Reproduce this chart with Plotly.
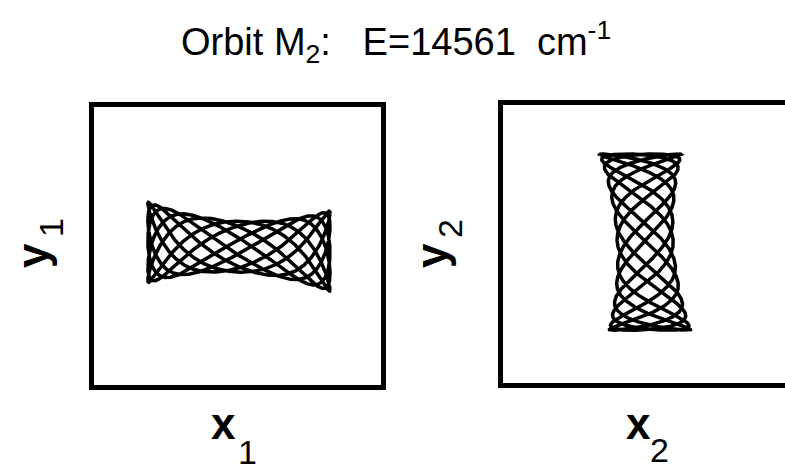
import numpy as np
import plotly.graph_objects as go

# Orbit M2 projected onto the (x1, y1) and (x2, y2) planes.
# Each projection is a quasi-periodic torus orbit: a slow sweep along the
# long axis and a fast transverse oscillation whose amplitude widens
# towards the turning points.
panels = ["(x1, y1)", "(x2, y2)"]
slow_freq = [5, 4]            # oscillations along the long axis
fast_freq = [11, 13]          # transverse oscillations
long_center = [0.010, 0.0135]
long_amp = [0.635, 0.634]
waist_halfwidth = [0.1835, 0.1955]
end_flare = [0.106, 0.088]
axis_offset = [-0.005, -0.009]
axis_tilt = [-0.031, -0.033]
phase = [0.35, 0.35]

W, H = 785, 472


def orbit(i, n=8000):
    t = np.linspace(0, 2 * np.pi, n)
    s = np.cos(slow_freq[i] * t)
    along = long_center[i] + long_amp[i] * s
    across = (axis_offset[i] + axis_tilt[i] * s
              + (waist_halfwidth[i] + end_flare[i] * s ** 2)
              * np.cos(fast_freq[i] * t + phase[i]))
    return along, across


fig = go.Figure()

a1, c1 = orbit(0)
fig.add_trace(go.Scatter(x=a1, y=c1, mode="lines",
                         line=dict(color="black", width=3.5),
                         xaxis="x", yaxis="y", hoverinfo="skip"))
a2, c2 = orbit(1)
fig.add_trace(go.Scatter(x=c2, y=a2, mode="lines",
                         line=dict(color="black", width=3.5),
                         xaxis="x2", yaxis="y2", hoverinfo="skip"))

ax_common = dict(showgrid=False, zeroline=False, showticklabels=False,
                 ticks="", showline=True, linecolor="black", linewidth=4.5,
                 fixedrange=True)

fig.update_layout(
    width=W, height=H,
    margin=dict(l=0, r=0, t=0, b=0),
    paper_bgcolor="white", plot_bgcolor="white",
    showlegend=False,
    font=dict(family="Liberation Sans, Arial, sans-serif", color="black"),
    xaxis=dict(domain=[94 / W, 381 / W], range=[-1, 1], mirror=True,
               **ax_common),
    yaxis=dict(domain=[87 / H, 365 / H], range=[-1, 1], mirror=True,
               **ax_common),
    # the right-hand panel runs past the page edge, so its right side is
    # left open
    xaxis2=dict(domain=[503 / W, 1.0], range=[-1, -1 + 282 / 143.5],
                anchor="y2", mirror=True, **ax_common),
    yaxis2=dict(domain=[89 / H, 367 / H], range=[-1, 1], anchor="x2",
                mirror=False, **ax_common),
)

ann = []
ann.append(dict(text="Orbit M<sub>2</sub>:\u00a0\u00a0\u00a0E=14561\u00a0\u00a0cm<sup>-1</sup>",
                x=396 / W, y=1 - 42 / H, xref="paper", yref="paper",
                xanchor="center", yanchor="middle", showarrow=False,
                font=dict(size=38)))


def axis_label(letter, digit, lx, ly, dx, dy, angle=0):
    ann.append(dict(text="<b>%s</b>" % letter, x=lx / W, y=1 - ly / H,
                    xref="paper", yref="paper", xanchor="center",
                    yanchor="middle", showarrow=False, textangle=angle,
                    font=dict(size=44)))
    ann.append(dict(text=digit, x=dx / W, y=1 - dy / H,
                    xref="paper", yref="paper", xanchor="center",
                    yanchor="middle", showarrow=False, textangle=angle,
                    font=dict(size=34)))


axis_label("x", "1", 223, 423, 247, 452)
axis_label("x", "2", 638, 423, 659, 450)
axis_label("y", "1", 32, 256, 51, 228, angle=-90)
axis_label("y", "2", 431, 256, 450, 229, angle=-90)

fig.update_layout(annotations=ann)
fig.write_html("out.html")
